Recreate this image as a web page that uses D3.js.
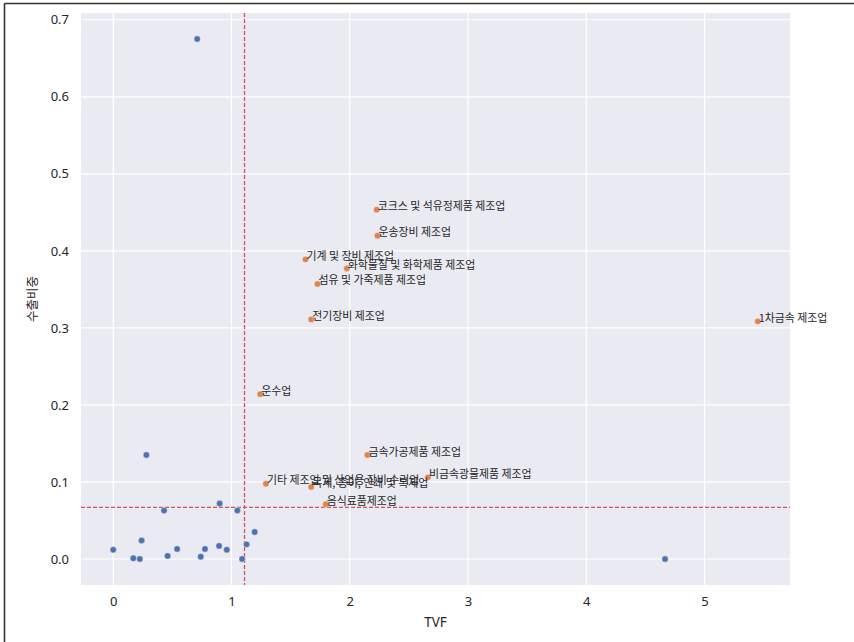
<!DOCTYPE html>
<html>
<head>
<meta charset="utf-8">
<script src="https://cdn.jsdelivr.net/npm/d3@7"></script>
<style>
  html, body { margin: 0; padding: 0; background: #fff; }
  svg { display: block; }
</style>
</head>
<body>
<svg id="chart" width="854" height="642"></svg>
<script>
// ---- data ----
const otherTVF   = [0.71, 0.28, 0.43, 0.90, 1.05, 1.196, 1.128, 1.09, 0.0, 0.24, 0.17, 0.225, 0.46, 0.54, 0.74, 0.776, 0.895, 0.96, 4.666];
const otherShare = [0.675, 0.135, 0.063, 0.072, 0.063, 0.035, 0.019, 0.0, 0.012, 0.024, 0.001, 0.0, 0.004, 0.013, 0.003, 0.013, 0.017, 0.012, 0.0];

const labelNames = ["코크스 및 석유정제품 제조업", "운송장비 제조업", "기계 및 장비 제조업", "화학물질 및 화학제품 제조업",
  "섬유 및 가죽제품 제조업", "전기장비 제조업", "1차금속 제조업", "운수업", "금속가공제품 제조업",
  "비금속광물제품 제조업", "기타 제조업 및 산업용 장비 수리업", "목재, 종이, 인쇄 및 복제업", "음식료품제조업"];
const labelTVF   = [2.228, 2.234, 1.626, 1.975, 1.727, 1.674, 5.45, 1.243, 2.149, 2.661, 1.291, 1.674, 1.797];
const labelShare = [0.4535, 0.4197, 0.389, 0.377, 0.357, 0.311, 0.3085, 0.214, 0.135, 0.106, 0.0976, 0.0935, 0.071];

const meanTVF = 1.11;
const meanShare = 0.067;

const xTicks = [0, 1, 2, 3, 4, 5];
const yTicks = [0.0, 0.1, 0.2, 0.3, 0.4, 0.5, 0.6, 0.7];

// ---- layout ----
const svg = d3.select("#chart");
const L = 81, R = 790, T = 13, B = 585;

const x = d3.scaleLinear().domain([-0.2725, 5.7225]).range([L, R]);
const y = d3.scaleLinear().domain([-0.03375, 0.70875]).range([B, T]);

// frame lines (top & left)
svg.append("line").attr("x1", 4.5).attr("x2", 854).attr("y1", 3.5).attr("y2", 3.5)
  .attr("stroke", "#333").attr("stroke-width", 1.6);
svg.append("line").attr("x1", 4.5).attr("x2", 4.5).attr("y1", 3.5).attr("y2", 642)
  .attr("stroke", "#333").attr("stroke-width", 1.6);

// background
svg.append("rect").attr("x", L).attr("y", T).attr("width", R - L).attr("height", B - T)
  .attr("fill", "#EAEAF2");

// grid
const g = svg.append("g");
g.selectAll(".gx").data(xTicks).enter().append("line")
  .attr("x1", d => x(d)).attr("x2", d => x(d)).attr("y1", T).attr("y2", B)
  .attr("stroke", "#fff").attr("stroke-width", 1.2);
g.selectAll(".gy").data(yTicks).enter().append("line")
  .attr("x1", L).attr("x2", R).attr("y1", d => y(d)).attr("y2", d => y(d))
  .attr("stroke", "#fff").attr("stroke-width", 1.2);

// axes via d3
const fontTick = "'Noto Sans', 'DejaVu Sans', sans-serif";
const xAxis = d3.axisBottom(x).tickValues(xTicks).tickSize(0).tickPadding(12).tickFormat(d3.format("d"));
const yAxis = d3.axisLeft(y).tickValues(yTicks).tickSize(0).tickPadding(12).tickFormat(d3.format(".1f"));
const gx = svg.append("g").attr("transform", `translate(0,${B})`).call(xAxis);
const gy = svg.append("g").attr("transform", `translate(${L},0)`).call(yAxis);
[gx, gy].forEach(a => {
  a.select(".domain").remove();
  a.selectAll("text").attr("fill", "#262626").style("font-family", fontTick).style("font-size", "13px");
});

// axis labels
svg.append("text").attr("x", (L + R) / 2).attr("y", 627).attr("text-anchor", "middle")
  .attr("fill", "#262626").style("font-family", fontTick).style("font-size", "13.5px").text("TVF");
svg.append("text").attr("transform", `translate(37,${(T + B) / 2}) rotate(-90)`)
  .attr("text-anchor", "middle").attr("fill", "#262626")
  .style("font-family", "'Noto Sans CJK KR', sans-serif").style("font-size", "12.5px").text("수출비중");

// reference lines
const red = "#D0545C";
svg.append("line").attr("x1", x(meanTVF)).attr("x2", x(meanTVF)).attr("y1", T).attr("y2", B)
  .attr("stroke", red).attr("stroke-width", 1.3).attr("stroke-dasharray", "4,2");
svg.append("line").attr("x1", L).attr("x2", R).attr("y1", y(meanShare)).attr("y2", y(meanShare))
  .attr("stroke", red).attr("stroke-width", 1.3).attr("stroke-dasharray", "4,2");

// points
const others = otherTVF.map((v, i) => ({ x: v, y: otherShare[i] }));
svg.append("g").selectAll("circle").data(others).enter().append("circle")
  .attr("cx", d => x(d.x)).attr("cy", d => y(d.y)).attr("r", 3.2)
  .attr("fill", "#4C72B0").attr("stroke", "#fff").attr("stroke-width", 0.4);

const labeled = labelNames.map((n, i) => ({ name: n, x: labelTVF[i], y: labelShare[i] }));
svg.append("g").selectAll("circle").data(labeled).enter().append("circle")
  .attr("cx", d => x(d.x)).attr("cy", d => y(d.y)).attr("r", 3.2)
  .attr("fill", "#DD8452").attr("stroke", "#fff").attr("stroke-width", 0.4);

svg.append("g").selectAll("text").data(labeled).enter().append("text")
  .attr("x", d => x(d.x) + 1).attr("y", d => y(d.y) + 0.5)
  .attr("fill", "#262626")
  .style("font-family", "'Noto Sans CJK KR', sans-serif").style("font-size", "10.9px")
  .text(d => d.name);
</script>
</body>
</html>
